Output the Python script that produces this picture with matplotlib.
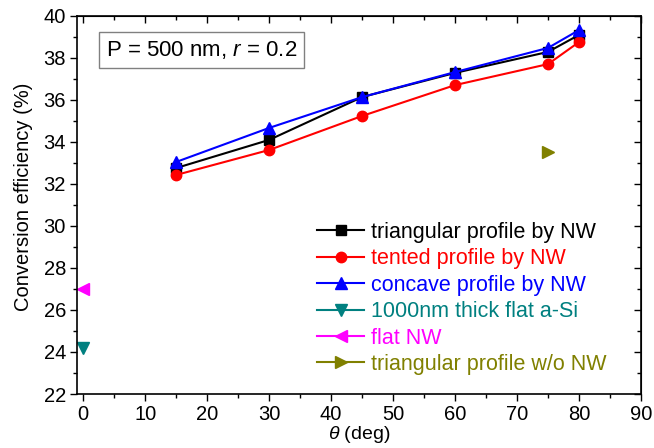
import numpy as np
import matplotlib
matplotlib.use("Agg")
import matplotlib.pyplot as plt

plt.rcParams['font.family'] = ['Liberation Sans', 'DejaVu Sans']
plt.rcParams['mathtext.fontset'] = 'custom'
plt.rcParams['mathtext.rm'] = 'Liberation Sans'
plt.rcParams['mathtext.it'] = 'Liberation Sans:italic'

# angles (deg)
theta = [15, 30, 45, 60, 75, 80]
triangular = [32.76, 34.10, 36.14, 37.29, 38.29, 39.10]
tented = [32.43, 33.62, 35.24, 36.71, 37.71, 38.76]
concave = [33.05, 34.67, 36.14, 37.33, 38.48, 39.33]

# single points
thick_x, thick_y = [0], [24.19]
flat_x, flat_y = [0], [27.0]
tri_wo_x, tri_wo_y = [75], [33.52]

fig = plt.figure(figsize=(6.54, 4.48), dpi=100)
ax = fig.add_axes([77/654, 1 - 394/448, (641 - 77)/654, (394 - 16)/448])

ax.plot(theta, triangular, color='black', marker='s', ms=6.5, lw=1.5,
        label='triangular profile by NW')
ax.plot(theta, tented, color='red', marker='o', ms=7.5, lw=1.5,
        label='tented profile by NW')
ax.plot(theta, concave, color='blue', marker='^', ms=8, lw=1.5,
        label='concave profile by NW')
ax.plot(thick_x, thick_y, color='#008080', marker='v', ms=8, lw=1.5,
        label='1000nm thick flat a-Si')
ax.plot(flat_x, flat_y, color='#ff00ff', marker='<', ms=8, lw=1.5,
        label='flat NW')
ax.plot(tri_wo_x, tri_wo_y, color='#808000', marker='>', ms=8, lw=1.5,
        label='triangular profile w/o NW')

ax.set_xlim(-1, 90)
ax.set_ylim(22, 40)
ax.set_xticks(np.arange(0, 91, 10))
ax.set_xticks(np.arange(5, 90, 10), minor=True)
ax.set_yticks(np.arange(22, 41, 2))
ax.set_yticks(np.arange(23, 40, 2), minor=True)
ax.tick_params(axis='both', which='major', labelsize=14.5, length=5, width=1,
               direction='out', pad=3)
ax.tick_params(axis='both', which='minor', length=3, width=1, direction='out')
for sp in ax.spines.values():
    sp.set_linewidth(1.2)

# mirrored inward ticks on top/right
axt = ax.secondary_xaxis('top')
axt.set_xticks(np.arange(0, 91, 10))
axt.set_xticks(np.arange(5, 90, 10), minor=True)
axt.tick_params(which='major', direction='in', length=5, width=1)
axt.tick_params(which='minor', direction='in', length=3, width=1)
axt.set_xticklabels([])
axr = ax.secondary_yaxis('right')
axr.set_yticks(np.arange(22, 41, 2))
axr.set_yticks(np.arange(23, 40, 2), minor=True)
axr.tick_params(which='major', direction='in', length=5, width=1)
axr.tick_params(which='minor', direction='in', length=3, width=1)
axr.set_yticklabels([])

ax.set_xlabel(r'$\theta$ (deg)', fontsize=14, labelpad=0)
ax.set_ylabel('Conversion efficiency (%)', fontsize=14.5)
ax.yaxis.set_label_coords(-0.078, 0.5225)

ax.text(0.051, 0.91, r'P = 500 nm, $r$ = 0.2', transform=ax.transAxes,
        fontsize=16, va='center', ha='left',
        bbox=dict(boxstyle='square,pad=0.3', fc='white', ec='#808080', lw=1))

leg = ax.legend(loc='upper left', bbox_to_anchor=(0.4255, 0.455), frameon=False,
                fontsize=15.5, handlelength=2.2, handletextpad=0.3,
                labelspacing=0.25, borderaxespad=0, borderpad=0)
for txt, line in zip(leg.get_texts(), leg.get_lines()):
    txt.set_color(line.get_color())

fig.savefig('out.png', dpi=100)
